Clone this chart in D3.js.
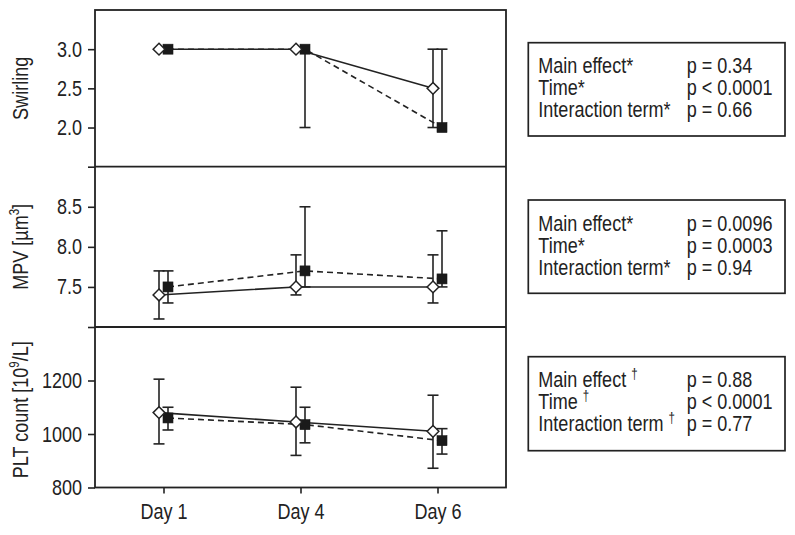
<!DOCTYPE html>
<html>
<head>
<meta charset="utf-8">
<script src="https://cdn.jsdelivr.net/npm/d3@7"></script>
<style>
  html, body { margin: 0; padding: 0; background: #fff; }
  svg { display: block; }
  text, tspan { fill: #222; }
</style>
</head>
<body>
<svg id="chart" width="795" height="535"></svg>
<script>
// ---------------- DATA ----------------
const days = ["Day 1", "Day 4", "Day 6"];

// open diamond series (solid line)
const swirlA   = [3.0, 3.0, 2.5];
const swirlALo = [3.0, 3.0, 2.0];
const swirlAHi = [3.0, 3.0, 3.0];
// filled square series (dashed line)
const swirlB   = [3.0, 3.0, 2.0];
const swirlBLo = [3.0, 2.0, 2.0];
const swirlBHi = [3.0, 3.0, 3.0];

const mpvA   = [7.4, 7.5, 7.5];
const mpvALo = [7.1, 7.4, 7.3];
const mpvAHi = [7.7, 7.9, 7.9];
const mpvB   = [7.5, 7.7, 7.6];
const mpvBLo = [7.3, 7.5, 7.5];
const mpvBHi = [7.7, 8.5, 8.2];

const pltA   = [1080, 1045, 1010];
const pltALo = [963, 920, 872];
const pltAHi = [1205, 1175, 1145];
const pltB   = [1060, 1035, 975];
const pltBLo = [1015, 967, 925];
const pltBHi = [1100, 1100, 1020];

const swirlTicks = [1.5, 2.0, 2.5, 3.0];
const mpvTicks   = [7.0, 7.5, 8.0, 8.5];
const pltTicks   = [800, 1000, 1200];

const statNames = ["Main effect", "Time", "Interaction term"];
const swirlMarks = ["*", "*", "*"];
const swirlP = ["p = 0.34", "p < 0.0001", "p = 0.66"];
const mpvMarks = ["*", "*", "*"];
const mpvP = ["p = 0.0096", "p = 0.0003", "p = 0.94"];
const pltMarks = ["†", "†", "†"];
const pltP = ["p = 0.88", "p < 0.0001", "p = 0.77"];

// ---------------- LAYOUT ----------------
const svg = d3.select("#chart");
const FONT = "'Liberation Sans', Arial, sans-serif";
const FS = 22;
const SX = 0.82;          // horizontal condensing (narrow face look)
const INK = "#222";
const LW = 1.6;

const left = 95, right = 506;
const panelY = [10, 166.7, 327, 487.5];

const x = d3.scalePoint().domain(days).range([left, right]).padding(0.5);
const off = 4.5;

function condenseTicks(sel) {
  sel.each(function () {
    const t = d3.select(this);
    const xx = +t.attr("x") || 0;
    t.attr("x", xx / SX).attr("transform", `scale(${SX},1)`);
  });
}
function ntext(px, py, anchor) {
  return svg.append("text")
    .attr("transform", `translate(${px},${py}) scale(${SX},1)`)
    .attr("text-anchor", anchor || "start")
    .attr("font-family", FONT).attr("font-size", FS).attr("fill", INK);
}

const panels = [
  { domain: [1.5, 3.5], ticks: swirlTicks, fmt: v => v === 1.5 ? "" : d3.format(".1f")(v),
    label: [{t: "Swirling"}],
    A: swirlA, ALo: swirlALo, AHi: swirlAHi, B: swirlB, BLo: swirlBLo, BHi: swirlBHi,
    names: statNames, marks: swirlMarks, p: swirlP, box: [42.7, 136] },
  { domain: [7.0, 9.0], ticks: mpvTicks, fmt: v => v === 7.0 ? "" : d3.format(".1f")(v),
    label: [{t: "MPV [µm"}, {t: "3", sup: true}, {t: "]"}],
    A: mpvA, ALo: mpvALo, AHi: mpvAHi, B: mpvB, BLo: mpvBLo, BHi: mpvBHi,
    names: statNames, marks: mpvMarks, p: mpvP, box: [200, 293.3] },
  { domain: [800, 1400], ticks: pltTicks, fmt: d3.format("d"),
    label: [{t: "PLT count [10"}, {t: "9", sup: true}, {t: "/L]"}],
    A: pltA, ALo: pltALo, AHi: pltAHi, B: pltB, BLo: pltBLo, BHi: pltBHi,
    names: statNames, marks: pltMarks, p: pltP, box: [356.7, 450.7] }
];

panels.forEach((P, i) => {
  const y = d3.scaleLinear().domain(P.domain).range([panelY[i + 1], panelY[i]]);
  const g = svg.append("g");

  // y axis
  const ax = g.append("g")
    .attr("transform", `translate(${left},0)`)
    .call(d3.axisLeft(y).tickValues(P.ticks).tickFormat(P.fmt).tickSize(7).tickPadding(6));
  ax.select(".domain").remove();
  ax.selectAll(".tick line").attr("stroke", INK).attr("stroke-width", LW);
  ax.selectAll(".tick text").attr("font-family", FONT).attr("font-size", FS).attr("fill", INK)
    .call(condenseTicks);

  // y label
  const cy = (panelY[i] + panelY[i + 1]) / 2 + (i === 2 ? 2.5 : 0);
  const lbl = g.append("text")
    .attr("transform", `translate(27.5,${cy}) rotate(-90) scale(${SX},1)`)
    .attr("text-anchor", "middle")
    .attr("font-family", FONT).attr("font-size", FS).attr("fill", INK);
  P.label.forEach(s => {
    const ts = lbl.append("tspan").text(s.t).attr("fill", INK);
    if (s.sup) ts.attr("font-size", 14).attr("baseline-shift", "60%");
  });

  // lines
  const lineA = d3.line().x((d, j) => x(days[j]) - off).y(d => y(d));
  const lineB = d3.line().x((d, j) => x(days[j]) + off).y(d => y(d));
  g.append("path").datum(P.B).attr("d", lineB)
    .attr("fill", "none").attr("stroke", INK).attr("stroke-width", LW)
    .attr("stroke-dasharray", "6,4");
  g.append("path").datum(P.A).attr("d", lineA)
    .attr("fill", "none").attr("stroke", INK).attr("stroke-width", LW);

  // error bars
  function errBars(vals, lo, hi, dx) {
    const cap = 5.5;
    vals.forEach((v, j) => {
      if (lo[j] === hi[j]) return;
      const cx = x(days[j]) + dx;
      g.append("line").attr("x1", cx).attr("x2", cx).attr("y1", y(lo[j])).attr("y2", y(hi[j]))
        .attr("stroke", INK).attr("stroke-width", LW);
      [lo[j], hi[j]].forEach(e => {
        if (e === v) return;
        g.append("line").attr("x1", cx - cap).attr("x2", cx + cap).attr("y1", y(e)).attr("y2", y(e))
          .attr("stroke", INK).attr("stroke-width", LW);
      });
    });
  }
  errBars(P.A, P.ALo, P.AHi, -off);
  errBars(P.B, P.BLo, P.BHi, off);

  // square markers
  g.selectAll(".sq").data(P.B).enter().append("rect")
    .attr("x", (d, j) => x(days[j]) + off - 5)
    .attr("y", d => y(d) - 5)
    .attr("width", 10).attr("height", 10)
    .attr("fill", "#1a1a1a").attr("stroke", "#1a1a1a").attr("stroke-width", 0.6);
  // diamond markers
  const dia = d3.symbol().type(d3.symbolDiamond2).size(88);
  g.selectAll(".dm").data(P.A).enter().append("path")
    .attr("d", dia)
    .attr("transform", (d, j) => `translate(${x(days[j]) - off},${y(d)})`)
    .attr("fill", "#fff").attr("stroke", INK).attr("stroke-width", 1.5);

  // stats box
  const bx = 528.3, bw = 256.7;
  svg.append("rect").attr("x", bx).attr("y", P.box[0]).attr("width", bw)
    .attr("height", P.box[1] - P.box[0])
    .attr("fill", "none").attr("stroke", INK).attr("stroke-width", 1.7);
  const base0 = P.box[0] + 30.6;
  P.names.forEach((n, k) => {
    const t = ntext(538.3, base0 + k * 22);
    if (P.marks[k] === "*") {
      t.text(n + "*");
    } else {
      t.append("tspan").text(n + " ").attr("fill", INK);
      t.append("tspan").text(P.marks[k]).attr("font-size", 14)
        .attr("baseline-shift", "65%").attr("fill", INK);
    }
    ntext(686.7, base0 + k * 22).text(P.p[k]);
  });
});

// frame and separators
svg.append("rect").attr("x", left).attr("y", panelY[0])
  .attr("width", right - left).attr("height", panelY[3] - panelY[0])
  .attr("fill", "none").attr("stroke", INK).attr("stroke-width", 1.8);
[panelY[1], panelY[2]].forEach(yy => {
  svg.append("line").attr("x1", left).attr("x2", right).attr("y1", yy).attr("y2", yy)
    .attr("stroke", INK).attr("stroke-width", 1.8);
});

// x axis
const xa = svg.append("g").attr("transform", `translate(0,${panelY[3]})`)
  .call(d3.axisBottom(x).tickSize(6).tickPadding(10));
xa.select(".domain").remove();
xa.selectAll(".tick line").attr("stroke", INK).attr("stroke-width", LW);
xa.selectAll(".tick text").attr("font-family", FONT).attr("font-size", FS).attr("fill", INK)
  .call(condenseTicks);
</script>
</body>
</html>
